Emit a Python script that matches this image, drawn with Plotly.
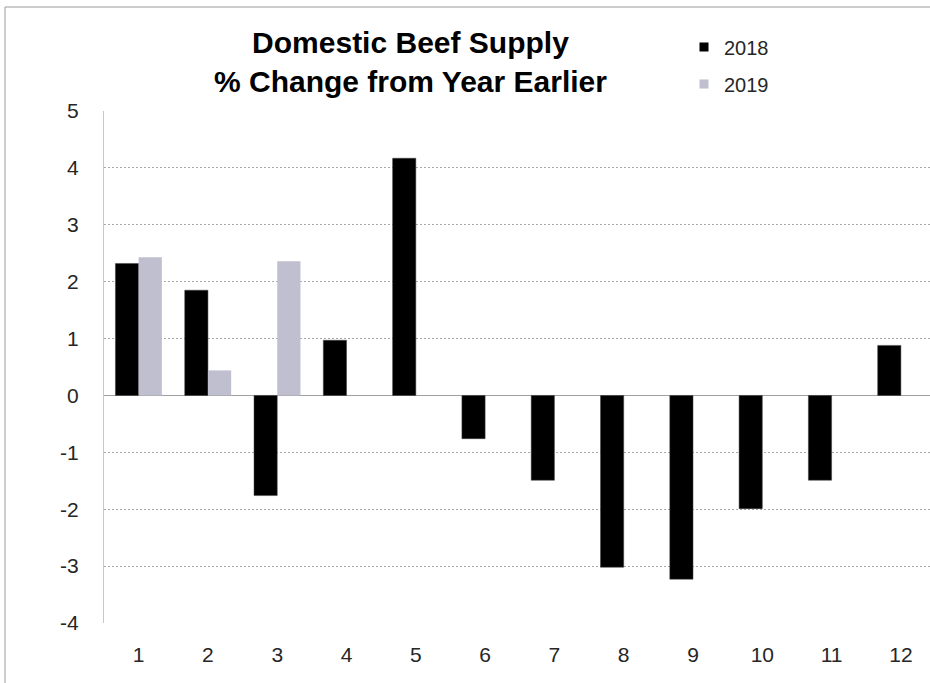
import plotly.graph_objects as go

# Monthly domestic beef supply, % change from a year earlier
months = list(range(1, 13))
change_2018 = [2.32, 1.85, -1.76, 0.97, 4.17, -0.76, -1.49, -3.02, -3.23, -1.99, -1.49, 0.88]
change_2019 = [2.43, 0.44, 2.36, None, None, None, None, None, None, None, None, None]
y_ticks = [5, 4, 3, 2, 1, 0, -1, -2, -3, -4]

COLOR_2018 = "#000000"
COLOR_2019 = "#c0bfd0"

W, H = 930, 683
L, R, T, B = 104, 0, 111, 60
pw, ph = W - L - R, H - T - B

def px_x(x):
    return (x - L) / pw

def px_y(y):
    return (H - B - y) / ph

fig = go.Figure()
fig.add_trace(go.Bar(
    x=months, y=change_2018, name="2018", showlegend=False,
    marker=dict(color=COLOR_2018, line=dict(color="#404040", width=0.5)),
))
fig.add_trace(go.Bar(
    x=months, y=change_2019, name="2019", showlegend=False,
    marker=dict(color=COLOR_2019, line=dict(width=0)),
))

# Legend entries with small square swatches
fig.add_trace(go.Scatter(
    x=[None], y=[None], mode="markers", name="2018", legend="legend",
    marker=dict(symbol="square", size=9, color=COLOR_2018),
))
fig.add_trace(go.Scatter(
    x=[None], y=[None], mode="markers", name="2019", legend="legend2",
    marker=dict(symbol="square", size=9, color=COLOR_2019),
))

font_family = "Liberation Sans, Arial, sans-serif"
legend_style = dict(xanchor="left", yanchor="middle",
                    font=dict(size=20, color="#262626"),
                    bgcolor="rgba(0,0,0,0)", itemwidth=30)

fig.update_layout(
    width=W, height=H,
    margin=dict(l=L, r=R, t=T, b=B, autoexpand=False),
    paper_bgcolor="white", plot_bgcolor="white",
    barmode="group", bargap=0.33, bargroupgap=0,
    font=dict(family=font_family, color="#262626"),
    showlegend=True,
    legend=dict(x=px_x(684), y=px_y(47), **legend_style),
    legend2=dict(x=px_x(684), y=px_y(84), **legend_style),
    xaxis=dict(
        range=[0.5, 12.42], tickmode="array", tickvals=months,
        ticktext=[str(m) for m in months],
        showgrid=False, zeroline=False, showline=False, ticks="",
        tickfont=dict(size=21, color="#262626"), ticklabelstandoff=17,
    ),
    yaxis=dict(
        range=[-4, 5], tickmode="array", tickvals=y_ticks,
        ticktext=[str(v) for v in y_ticks],
        showgrid=True, gridcolor="#a8a8a8", griddash="2px,2px", gridwidth=1,
        zeroline=True, zerolinecolor="#a0a0a0", zerolinewidth=1,
        showline=True, linecolor="#c8c8c8", linewidth=1, ticks="",
        tickfont=dict(size=21, color="#262626"), ticklabelstandoff=20,
    ),
)

# Chart title, two lines
fig.add_annotation(
    x=px_x(410), y=px_y(62), xref="paper", yref="paper",
    text="<b>Domestic Beef Supply</b><br><b>% Change from Year Earlier</b>",
    showarrow=False, xanchor="center", yanchor="middle",
    font=dict(size=30, family=font_family, color="#000000"),
    align="center",
)

# Outer chart frame
fig.add_shape(type="rect", xref="paper", yref="paper",
              x0=px_x(5), y0=px_y(700), x1=px_x(960), y1=px_y(7),
              line=dict(color="#9a9a9a", width=1), fillcolor="rgba(0,0,0,0)",
              layer="below")

fig.write_html("out.html")
